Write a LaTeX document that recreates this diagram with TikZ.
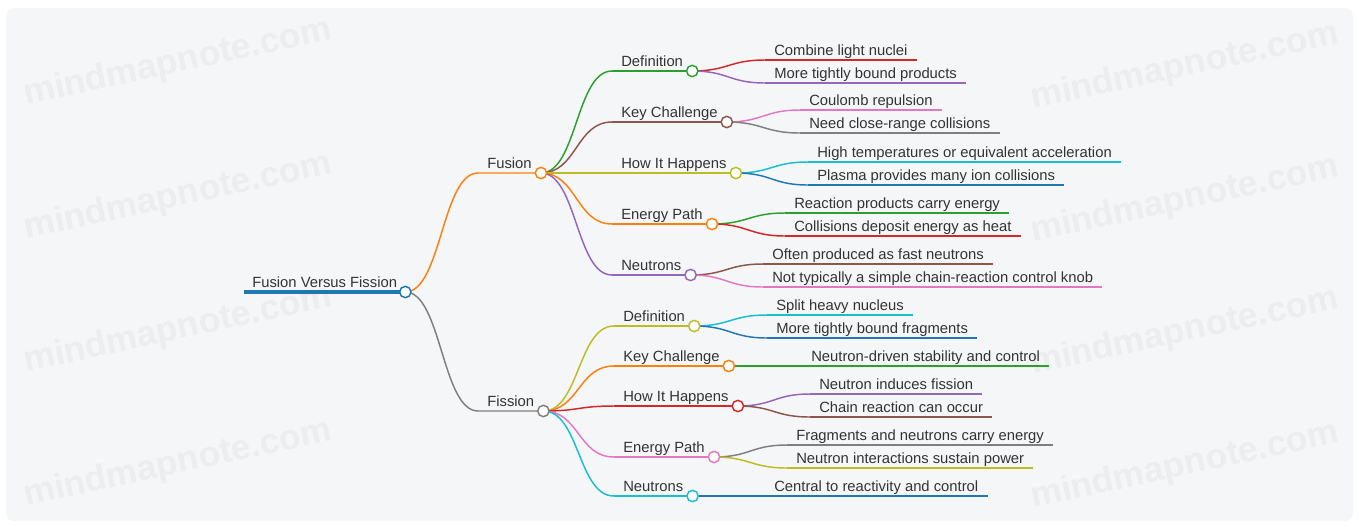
\documentclass[tikz,border=0pt]{standalone}
\usepackage{fontspec}
\setmainfont{Liberation Sans}
\usetikzlibrary{positioning}

\definecolor{mmblue}{HTML}{1F77B4}
\definecolor{mmorange}{HTML}{FF7F0E}
\definecolor{mmgreen}{HTML}{2CA02C}
\definecolor{mmred}{HTML}{D62728}
\definecolor{mmpurple}{HTML}{9467BD}
\definecolor{mmbrown}{HTML}{8C564B}
\definecolor{mmpink}{HTML}{E377C2}
\definecolor{mmgray}{HTML}{7F7F7F}
\definecolor{mmolive}{HTML}{BCBD22}
\definecolor{mmcyan}{HTML}{17BECF}
\definecolor{mmtext}{HTML}{333333}
\definecolor{mmbg}{HTML}{F5F6F8}
\definecolor{mmmark}{HTML}{ECEDEF}

\tikzset{
	topic/.style={anchor=south west, inner xsep=6.75pt, inner ysep=0pt, text depth=3pt,
		text=mmtext, font=\fontsize{11.1}{13}\selectfont},
	dot/.style={circle, draw=#1, fill=white, line width=1.1pt, inner sep=0pt, minimum size=8.5pt},
	link/.style={draw=#1, line width=1.1pt},
	bar/.style={draw=#1, line width=1.5pt},
	watermark/.style={text=mmmark, font=\fontsize{26.5}{26.5}\selectfont\bfseries, rotate=12},
}

\begin{document}
\begin{tikzpicture}[x=0.75pt,y=-0.75pt]
	%========
	%Canvas
	%========
	\fill[white] (0,0) rectangle (1359,526);
	\fill[mmbg, rounded corners=6pt] (6,8) rectangle (1353,521);

	\node[watermark] (mark1) at (178,63) {mindmapnote.com};
	\node[watermark] (mark2) at (178,197) {mindmapnote.com};
	\node[watermark] (mark3) at (178,330) {mindmapnote.com};
	\node[watermark] (mark4) at (178,464) {mindmapnote.com};
	\node[watermark] (mark5) at (1185,67) {mindmapnote.com};
	\node[watermark] (mark6) at (1185,200) {mindmapnote.com};
	\node[watermark] (mark7) at (1185,332) {mindmapnote.com};
	\node[watermark] (mark8) at (1185,466) {mindmapnote.com};

	%========
	%Root
	%========
	\node[topic, inner xsep=6pt] (root) at (244,292) {Fusion Versus Fission};
	\draw[mmblue, line width=3pt] (root.south west) -- (root.south east);

	%========
	%Level 1
	%========
	\node[topic] (fusion) at (478,173) {Fusion};
	\node[topic] (fission) at (478,411) {Fission};

	\draw[link=mmorange] (root.south east) .. controls +(36,0) and +(-36,0) .. (fusion.south west) -- (fusion.south east);
	\draw[link=mmgray] (root.south east) .. controls +(36,0) and +(-36,0) .. (fission.south west) -- (fission.south east);

	%========
	%Level 2
	%========
	\node[topic] (fu-def) at (612,71) {Definition};
	\node[topic] (fu-key) at (612,122) {Key Challenge};
	\node[topic] (fu-how) at (612,173) {How It Happens};
	\node[topic] (fu-en) at (612,224) {Energy Path};
	\node[topic] (fu-neu) at (612,275) {Neutrons};

	\node[topic] (fi-def) at (614,326) {Definition};
	\node[topic] (fi-key) at (614,366) {Key Challenge};
	\node[topic] (fi-how) at (614,406) {How It Happens};
	\node[topic] (fi-en) at (614,457) {Energy Path};
	\node[topic] (fi-neu) at (614,496) {Neutrons};

	\draw[link=mmgreen] (fusion.south east) .. controls +(36,0) and +(-36,0) .. (fu-def.south west);
	\draw[link=mmbrown] (fusion.south east) .. controls +(36,0) and +(-36,0) .. (fu-key.south west);
	\draw[link=mmolive] (fusion.south east) .. controls +(36,0) and +(-36,0) .. (fu-how.south west);
	\draw[link=mmorange] (fusion.south east) .. controls +(36,0) and +(-36,0) .. (fu-en.south west);
	\draw[link=mmpurple] (fusion.south east) .. controls +(36,0) and +(-36,0) .. (fu-neu.south west);

	\draw[link=mmolive] (fission.south east) .. controls +(36,0) and +(-36,0) .. (fi-def.south west);
	\draw[link=mmorange] (fission.south east) .. controls +(36,0) and +(-36,0) .. (fi-key.south west);
	\draw[link=mmred] (fission.south east) .. controls +(36,0) and +(-36,0) .. (fi-how.south west);
	\draw[link=mmpink] (fission.south east) .. controls +(36,0) and +(-36,0) .. (fi-en.south west);
	\draw[link=mmcyan] (fission.south east) .. controls +(36,0) and +(-36,0) .. (fi-neu.south west);

	\draw[bar=mmgreen] (fu-def.south west) -- (fu-def.south east);
	\draw[bar=mmbrown] (fu-key.south west) -- (fu-key.south east);
	\draw[bar=mmolive] (fu-how.south west) -- (fu-how.south east);
	\draw[bar=mmorange] (fu-en.south west) -- (fu-en.south east);
	\draw[bar=mmpurple] (fu-neu.south west) -- (fu-neu.south east);

	\draw[bar=mmolive] (fi-def.south west) -- (fi-def.south east);
	\draw[bar=mmorange] (fi-key.south west) -- (fi-key.south east);
	\draw[bar=mmred] (fi-how.south west) -- (fi-how.south east);
	\draw[bar=mmpink] (fi-en.south west) -- (fi-en.south east);
	\draw[bar=mmcyan] (fi-neu.south west) -- (fi-neu.south east);

	%========
	%Level 3 (Fusion)
	%========
	\node[topic] (fu-def-a) at (765,60) {Combine light nuclei};
	\node[topic] (fu-def-b) at (765,83) {More tightly bound products};
	\node[topic] (fu-key-a) at (800,110) {Coulomb repulsion};
	\node[topic] (fu-key-b) at (800,133) {Need close-range collisions};
	\node[topic] (fu-how-a) at (808,162) {High temperatures or equivalent acceleration};
	\node[topic] (fu-how-b) at (808,185) {Plasma provides many ion collisions};
	\node[topic] (fu-en-a) at (785,213) {Reaction products carry energy};
	\node[topic] (fu-en-b) at (785,236) {Collisions deposit energy as heat};
	\node[topic] (fu-neu-a) at (763,264) {Often produced as fast neutrons};
	\node[topic] (fu-neu-b) at (763,287) {Not typically a simple chain-reaction control knob};

	\draw[link=mmred] (fu-def.south east) .. controls +(36,0) and +(-36,0) .. (fu-def-a.south west);
	\draw[link=mmpurple] (fu-def.south east) .. controls +(36,0) and +(-36,0) .. (fu-def-b.south west);
	\draw[link=mmpink] (fu-key.south east) .. controls +(36,0) and +(-36,0) .. (fu-key-a.south west);
	\draw[link=mmgray] (fu-key.south east) .. controls +(36,0) and +(-36,0) .. (fu-key-b.south west);
	\draw[link=mmcyan] (fu-how.south east) .. controls +(36,0) and +(-36,0) .. (fu-how-a.south west);
	\draw[link=mmblue] (fu-how.south east) .. controls +(36,0) and +(-36,0) .. (fu-how-b.south west);
	\draw[link=mmgreen] (fu-en.south east) .. controls +(36,0) and +(-36,0) .. (fu-en-a.south west);
	\draw[link=mmred] (fu-en.south east) .. controls +(36,0) and +(-36,0) .. (fu-en-b.south west);
	\draw[link=mmbrown] (fu-neu.south east) .. controls +(36,0) and +(-36,0) .. (fu-neu-a.south west);
	\draw[link=mmpink] (fu-neu.south east) .. controls +(36,0) and +(-36,0) .. (fu-neu-b.south west);

	\draw[bar=mmred] (fu-def-a.south west) -- (fu-def-a.south east);
	\draw[bar=mmpurple] (fu-def-b.south west) -- (fu-def-b.south east);
	\draw[bar=mmpink] (fu-key-a.south west) -- (fu-key-a.south east);
	\draw[bar=mmgray] (fu-key-b.south west) -- (fu-key-b.south east);
	\draw[bar=mmcyan] (fu-how-a.south west) -- (fu-how-a.south east);
	\draw[bar=mmblue] (fu-how-b.south west) -- (fu-how-b.south east);
	\draw[bar=mmgreen] (fu-en-a.south west) -- (fu-en-a.south east);
	\draw[bar=mmred] (fu-en-b.south west) -- (fu-en-b.south east);
	\draw[bar=mmbrown] (fu-neu-a.south west) -- (fu-neu-a.south east);
	\draw[bar=mmpink] (fu-neu-b.south west) -- (fu-neu-b.south east);

	%========
	%Level 3 (Fission)
	%========
	\node[topic] (fi-def-a) at (767,315) {Split heavy nucleus};
	\node[topic] (fi-def-b) at (767,338) {More tightly bound fragments};
	\node[topic] (fi-key-a) at (802,366) {Neutron-driven stability and control};
	\node[topic] (fi-how-a) at (810,394) {Neutron induces fission};
	\node[topic] (fi-how-b) at (810,417) {Chain reaction can occur};
	\node[topic] (fi-en-a) at (787,445) {Fragments and neutrons carry energy};
	\node[topic] (fi-en-b) at (787,468) {Neutron interactions sustain power};
	\node[topic] (fi-neu-a) at (765,496) {Central to reactivity and control};

	\draw[link=mmcyan] (fi-def.south east) .. controls +(36,0) and +(-36,0) .. (fi-def-a.south west);
	\draw[link=mmblue] (fi-def.south east) .. controls +(36,0) and +(-36,0) .. (fi-def-b.south west);
	\draw[link=mmgreen] (fi-key.south east) -- (fi-key-a.south west);
	\draw[link=mmpurple] (fi-how.south east) .. controls +(36,0) and +(-36,0) .. (fi-how-a.south west);
	\draw[link=mmbrown] (fi-how.south east) .. controls +(36,0) and +(-36,0) .. (fi-how-b.south west);
	\draw[link=mmgray] (fi-en.south east) .. controls +(36,0) and +(-36,0) .. (fi-en-a.south west);
	\draw[link=mmolive] (fi-en.south east) .. controls +(36,0) and +(-36,0) .. (fi-en-b.south west);
	\draw[link=mmblue] (fi-neu.south east) -- (fi-neu-a.south west);

	\draw[bar=mmcyan] (fi-def-a.south west) -- (fi-def-a.south east);
	\draw[bar=mmblue] (fi-def-b.south west) -- (fi-def-b.south east);
	\draw[bar=mmgreen] (fi-key-a.south west) -- (fi-key-a.south east);
	\draw[bar=mmpurple] (fi-how-a.south west) -- (fi-how-a.south east);
	\draw[bar=mmbrown] (fi-how-b.south west) -- (fi-how-b.south east);
	\draw[bar=mmgray] (fi-en-a.south west) -- (fi-en-a.south east);
	\draw[bar=mmolive] (fi-en-b.south west) -- (fi-en-b.south east);
	\draw[bar=mmblue] (fi-neu-a.south west) -- (fi-neu-a.south east);

	%========
	%Dots
	%========
	\node[dot=mmblue] (root-dot) at (root.south east) {};
	\node[dot=mmorange] (fusion-dot) at (fusion.south east) {};
	\node[dot=mmgray] (fission-dot) at (fission.south east) {};

	\node[dot=mmgreen] (fu-def-dot) at (fu-def.south east) {};
	\node[dot=mmbrown] (fu-key-dot) at (fu-key.south east) {};
	\node[dot=mmolive] (fu-how-dot) at (fu-how.south east) {};
	\node[dot=mmorange] (fu-en-dot) at (fu-en.south east) {};
	\node[dot=mmpurple] (fu-neu-dot) at (fu-neu.south east) {};

	\node[dot=mmolive] (fi-def-dot) at (fi-def.south east) {};
	\node[dot=mmorange] (fi-key-dot) at (fi-key.south east) {};
	\node[dot=mmred] (fi-how-dot) at (fi-how.south east) {};
	\node[dot=mmpink] (fi-en-dot) at (fi-en.south east) {};
	\node[dot=mmcyan] (fi-neu-dot) at (fi-neu.south east) {};
\end{tikzpicture}
\end{document}
